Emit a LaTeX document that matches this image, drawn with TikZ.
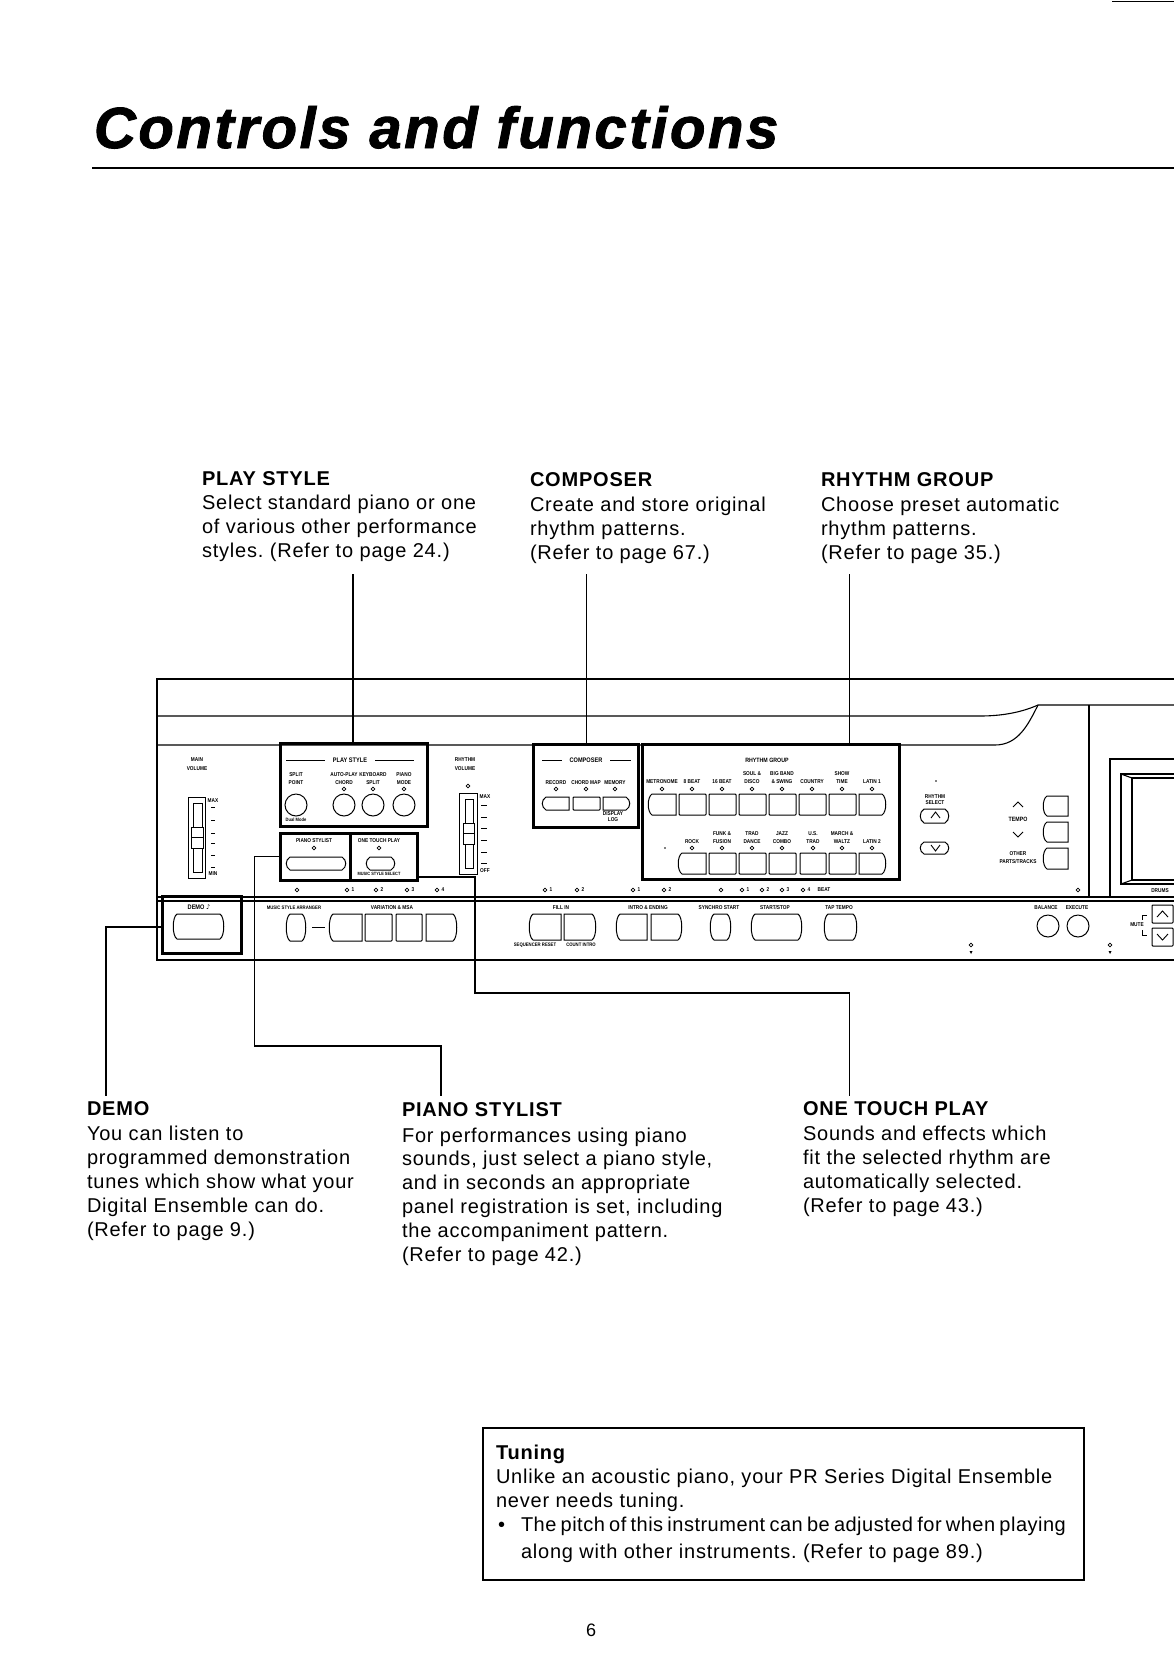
\documentclass[tikz,border=0pt]{standalone}
\usepackage{fontspec}
\setmainfont{Liberation Sans}
\frenchspacing
\newfontfamily\bodyf[LetterSpace=4]{Liberation Sans}
\newfontfamily\tightf[LetterSpace=2.5,WordSpace=0.7]{Liberation Sans}
\newfontfamily\titlef[LetterSpace=4.5,BoldItalicFeatures={FakeBold=1.6}]{Liberation Sans}
\newfontfamily\labf[FakeStretch=0.85]{Liberation Sans}
\newfontfamily\dejav{DejaVu Sans}
\newcount\labn
\tikzset{
  every node/.style={inner sep=0pt,outer sep=0pt},
  btn/.style={draw=black,line width=1pt,fill=white},
  led/.style={draw=black,line width=0.8pt,fill=white},
  panel/.style={draw=black,line width=1.1pt},
  slider/.style={draw=black,line width=1pt},
  heavy/.style={draw=black,line width=2.3pt},
  hl/.style={draw=black,line width=3pt,fill=none,minimum width=#1},
  conn/.style={draw=black,line width=1.7pt},
  labtxt/.style={font=\labf\fontsize{5.6}{6}\selectfont\bfseries,text=black,anchor=center},
  body/.style={font=\bodyf\fontsize{20}{23.9}\selectfont\frenchspacing,align=left,anchor=base west,text=black},
}
\newcommand\lab[3]{\global\advance\labn by 1 \node[labtxt,name=lab\the\labn] at (#1,#2) {#3};}
\newcommand\ledc[2]{\draw[led] (#1,#2) circle (1.9);}
\newcommand\bS[4]{\draw[btn,rounded corners=0.8] (#1,#2) rectangle (#3,#4);}
\newcommand\bL[4]{\draw[btn] (#3,#2) -- ({#1+5},#2) .. controls (#1,{#2+3}) and (#1,{#4-3}) .. ({#1+5},#4) -- (#3,#4) -- cycle;}
\newcommand\bR[4]{\draw[btn] (#1,#2) -- ({#3-5},#2) .. controls (#3,{#2+3}) and (#3,{#4-3}) .. ({#3-5},#4) -- (#1,#4) -- cycle;}
\newcommand\bB[4]{\draw[btn] ({#1+5},#2) -- ({#3-5},#2) .. controls (#3,{#2+3}) and (#3,{#4-3}) .. ({#3-5},#4) -- ({#1+5},#4) .. controls (#1,{#4-3}) and (#1,{#2+3}) .. cycle;}
\begin{document}
\begin{tikzpicture}[x=1pt,y=-1pt]
\useasboundingbox (0,0) rectangle (1174,1676);
% page head
\draw[line width=1.3pt] (1112,1.5) -- (1174,1.5);
\node[name=title,anchor=base west,font=\titlef\bfseries\itshape\fontsize{58}{60}\selectfont] at (94,148) {Controls and functions};
\draw[line width=1.8pt] (92,168) -- (1174,168);
% upper text
\node[body,name=tplay] at (202,557) {\textbf{PLAY STYLE}\\Select standard piano or one\\of various other performance\\styles. (Refer to page 24.)};
\node[body,name=tcomp] at (530,559) {\textbf{COMPOSER}\\[1pt]Create and store original\\rhythm patterns.\\(Refer to page 67.)};
\node[body,name=trhy] at (821,559) {\textbf{RHYTHM GROUP}\\[1pt]Choose preset automatic\\rhythm patterns.\\(Refer to page 35.)};
% panel outline
\draw[heavy] (1174,679) -- (157,679) -- (157,960) -- (1174,960);
\draw[panel] (157,716) -- (980,716) .. controls (1000,716) and (1020,713) .. (1038,705) -- (1174,705);
\draw[panel] (157,745) -- (995,745) .. controls (1018,745) and (1028,725) .. (1038,705);
\draw[panel] (157,897) -- (1174,897);
\draw[heavy] (157,901) -- (1174,901);
\draw[panel] (1089,705) -- (1089,897);
\draw[heavy] (1174,759) -- (1110,759) -- (1110,897);
\draw[panel] (1174,774) -- (1121,774) -- (1121,884) -- (1174,884);
\draw[panel] (1174,778) -- (1132,778) -- (1132,880) -- (1174,880);
\draw[panel] (1121,774) -- (1132,778) (1121,884) -- (1132,880);
\lab{1160}{891}{DRUMS}
% main volume
\lab{197}{760}{MAIN}\lab{197}{769}{VOLUME}
\draw[slider] (188,797) rectangle (205,878);
\draw[slider] (193,803) rectangle (202,872);
\draw[btn] (191.5,827) rectangle (203,848);
\draw[slider] (191.5,837) -- (203,837);
\foreach \yy in {807,820,833,843,855,867} {\draw[line width=0.9pt] (211,\yy) -- (215,\yy);}
\lab{213}{801}{MAX}\lab{213}{874}{MIN}
% rhythm volume
\lab{465}{760}{RHYTHM}\lab{465}{769}{VOLUME}
\ledc{468}{786}
\draw[slider] (459,793) rectangle (477,874);
\draw[slider] (465,799) rectangle (473,868);
\draw[btn] (463,823) rectangle (474,844);
\draw[slider] (463,833) -- (474,833);
\foreach \yy in {805,817,828,840,852,863} {\draw[line width=0.9pt] (481,\yy) -- (487,\yy);}
\lab{485}{797}{MAX}\lab{485}{871}{OFF}
% play style
\node[hl=147pt,minimum height=83pt,name=playbox] at (353.5,784.5) {};
\lab{350}{760}{\fontsize{6.6}{7}\selectfont PLAY STYLE}
\draw[line width=1pt] (286,760) -- (325,760) (375,760) -- (414,760);
\lab{296}{775}{SPLIT}\lab{296}{783}{POINT}
\lab{344}{775}{AUTO-PLAY}\lab{344}{783}{CHORD}\ledc{344}{789}
\lab{373}{775}{KEYBOARD}\lab{373}{783}{SPLIT}\ledc{373}{789}
\lab{404}{775}{PIANO}\lab{404}{783}{MODE}\ledc{404}{789}
\foreach \xx in {296,344,373,404} {\draw[btn] (\xx,805) circle (11);}
\lab{296}{820}{\fontsize{4.8}{5}\selectfont Dual Mode}
% piano stylist and one touch
\node[hl=70pt,minimum height=47pt,name=pianobox] at (315,856.5) {};
\node[hl=67pt,minimum height=47pt,name=touchbox] at (383.5,856.5) {};
\lab{314}{841}{PIANO STYLIST}\ledc{314}{848}
\bB{285}{857}{347}{870}
\lab{379}{841}{ONE TOUCH PLAY}\ledc{379}{848}
\bB{365}{857}{396}{870}
\lab{379}{873.5}{\fontsize{4.6}{5}\selectfont MUSIC STYLE SELECT}
% demo
\node[hl=79pt,minimum height=57pt,name=demobox] at (201.5,924.5) {};
\node[labtxt,name=demolab] at (199,907) {\fontsize{6.6}{7}\selectfont DEMO {\dejav\char"266A}};
\bB{172}{914}{225}{939}
% led row
\ledc{297}{890}
\ledc{347}{890}\lab{353}{890}{1}
\ledc{376}{890}\lab{382}{890}{2}
\ledc{407}{890}\lab{413}{890}{3}
\ledc{437}{890}\lab{443}{890}{4}
\ledc{545}{890}\lab{551}{890}{1}
\ledc{577}{890}\lab{583}{890}{2}
\ledc{633}{890}\lab{639}{890}{1}
\ledc{664}{890}\lab{670}{890}{2}
\ledc{721}{890}
\ledc{742}{890}\lab{748}{890}{1}
\ledc{762}{890}\lab{768}{890}{2}
\ledc{782}{890}\lab{788}{890}{3}
\ledc{803}{890}\lab{809}{890}{4}
\lab{824}{890}{BEAT}
\ledc{1078}{890}
% lower row
\lab{294}{908}{\fontsize{5}{5}\selectfont MUSIC STYLE ARRANGER}\lab{392}{908}{VARIATION \& MSA}
\bB{285}{914}{307}{941}
\draw[line width=0.9pt] (312,927) -- (325,927);
\bL{328}{914}{362}{941}\bS{365}{914}{392}{941}\bS{396}{914}{422}{941}\bR{426}{914}{458}{941}
\lab{561}{908}{FILL IN}
\bL{528}{914}{561}{940}\bR{564}{914}{597}{940}
\lab{535}{945}{\fontsize{5}{5}\selectfont SEQUENCER RESET}\lab{581}{945}{\fontsize{5}{5}\selectfont COUNT INTRO}
\lab{648}{908}{INTRO \& ENDING}
\bL{615}{914}{647}{940}\bR{651}{914}{683}{940}
\lab{719}{908}{SYNCHRO START}\bB{709}{914}{732}{940}
\lab{775}{908}{START/STOP}\bB{750}{914}{803}{940}
\lab{839}{908}{TAP TEMPO}\bB{823}{914}{858}{940}
% composer
\node[hl=105pt,minimum height=83pt,name=compbox] at (585.5,785.5) {};
\lab{586}{760}{\fontsize{6.6}{7}\selectfont COMPOSER}
\draw[line width=1pt] (542,760) -- (562,760) (610,760) -- (631,760);
\lab{556}{783}{RECORD}\ledc{556}{789}
\lab{586}{783}{CHORD MAP}\ledc{586}{789}
\lab{615}{783}{MEMORY}\ledc{615}{789}
\bL{541}{797}{569}{810}\bS{573}{797}{600}{810}\bR{603}{797}{631}{810}
\lab{613}{814}{DISPLAY}\lab{613}{820}{LOG}
% rhythm group
\node[hl=257pt,minimum height=135pt,name=rhybox] at (770.5,811.5) {};
\lab{767}{760}{\fontsize{6.2}{7}\selectfont RHYTHM GROUP}
\lab{662}{782}{METRONOME}\lab{692}{782}{8 BEAT}\lab{722}{782}{16 BEAT}
\lab{752}{774}{SOUL \&}\lab{752}{782}{DISCO}
\lab{782}{774}{BIG BAND}\lab{782}{782}{\& SWING}
\lab{812}{782}{COUNTRY}
\lab{842}{774}{SHOW}\lab{842}{782}{TIME}
\lab{872}{782}{LATIN 1}
\foreach \xx in {662,692,722,752,782,812,842,872} {\ledc{\xx}{789}}
\bL{647}{794}{676}{815}\bS{679}{794}{706}{815}\bS{709}{794}{736}{815}\bS{739}{794}{766}{815}
\bS{769}{794}{796}{815}\bS{799}{794}{826}{815}\bS{829}{794}{856}{815}\bR{859}{794}{887}{815}
\lab{692}{842}{ROCK}
\lab{722}{834}{FUNK \&}\lab{722}{842}{FUSION}
\lab{752}{834}{TRAD}\lab{752}{842}{DANCE}
\lab{782}{834}{JAZZ}\lab{782}{842}{COMBO}
\lab{813}{834}{U.S.}\lab{813}{842}{TRAD}
\lab{842}{834}{MARCH \&}\lab{842}{842}{WALTZ}
\lab{872}{842}{LATIN 2}
\foreach \xx in {692,722,752,782,813,842,872} {\ledc{\xx}{848}}
\fill (665,848) circle (0.8);
\bL{677}{853}{706}{874}\bS{709}{853}{736}{874}\bS{739}{853}{766}{874}\bS{769}{853}{796}{874}
\bS{800}{853}{826}{874}\bS{829}{853}{856}{874}\bR{859}{853}{887}{874}
% rhythm select, tempo
\fill (936,781) circle (0.8);
\lab{935}{797}{RHYTHM}\lab{935}{803}{SELECT}
\bB{919}{809}{950}{823}
\draw[line width=0.9pt] (931,818) -- (935.5,812) -- (940,818);
\bB{919}{842}{950}{854}
\draw[line width=0.9pt] (931,845) -- (935.5,851) -- (940,845);
\draw[line width=0.9pt] (1013,807) -- (1018,802) -- (1023,807);
\lab{1018}{819}{\fontsize{6.2}{7}\selectfont TEMPO}
\draw[line width=0.9pt] (1013,832) -- (1018,837) -- (1023,832);
\lab{1018}{854}{OTHER}\lab{1018}{862}{PARTS/TRACKS}
\bL{1042}{796}{1068}{816}\bL{1042}{822}{1068}{842}\bL{1042}{848}{1068}{869}
% balance, execute, mute
\lab{1046}{908}{BALANCE}\lab{1077}{908}{EXECUTE}
\draw[btn] (1048,926) circle (11);\draw[btn] (1078,926) circle (11);
\ledc{971}{945}\fill (969.5,951) -- (972.5,951) -- (971,954) -- cycle;
\ledc{1110}{945}\fill (1108.5,951) -- (1111.5,951) -- (1110,954) -- cycle;
\lab{1137}{925}{MUTE}
\draw[line width=0.9pt] (1147,915) -- (1142,915) -- (1142,920) (1142,930) -- (1142,935) -- (1147,935);
\bS{1152}{905}{1173}{923}\bS{1152}{928}{1173}{946}
\draw[line width=0.9pt] (1157,917) -- (1162.5,911) -- (1168,917);
\draw[line width=0.9pt] (1157,934) -- (1162.5,940) -- (1168,934);
% connectors
\coordinate (playtop) at (353,574);
\coordinate (comptop) at (586.5,574);
\coordinate (rhytop) at (849.5,574);
\coordinate (demoend) at (106,1096);
\coordinate (pianobend) at (254.5,1046);
\coordinate (pianoend) at (441,1096);
\coordinate (touchbend) at (475,993);
\coordinate (touchend) at (849.5,1096);
\draw[conn] (playtop) -- (playtop |- playbox.north);
\draw[conn] (comptop) -- (comptop |- compbox.north);
\draw[conn] (rhytop) -- (rhytop |- rhybox.north);
\draw[conn] ([yshift=-2.5pt]demobox.west) -| (demoend);
\draw[conn] (pianobox.west) -| (pianobend) -| (pianoend);
\draw[conn] ([yshift=3pt]touchbox.south east) -| (touchbend) -| (touchend);
% lower text
\node[body,name=tdemo] at (87,1236.5) {\textbf{DEMO}\\[2pt]You can listen to\\programmed demonstration\\tunes which show what your\\Digital Ensemble can do.\\(Refer to page 9.)};
\node[body,name=tpiano] at (402,1261.5) {\textbf{PIANO STYLIST}\\[2pt]For performances using piano\\sounds, just select a piano style,\\and in seconds an appropriate\\panel registration is set, including\\the accompaniment pattern.\\(Refer to page 42.)};
\node[body,name=ttouch] at (803,1212.6) {\textbf{ONE TOUCH PLAY}\\[1.5pt]Sounds and effects which\\fit the selected rhythm are\\automatically selected.\\(Refer to page 43.)};
% tuning box
\node[draw=black,line width=1.2pt,minimum width=601pt,minimum height=152pt,name=tunebox] at (783.5,1504) {};
\node[body,name=ttune] at (496,1507) {\textbf{Tuning}\\Unlike an acoustic piano, your PR Series Digital Ensemble\\never needs tuning.};
\node[anchor=base west,font=\fontsize{20}{24}\selectfont,name=tbullet] at (498,1531) {•};
\node[anchor=base west,font=\tightf\fontsize{20}{24}\selectfont,name=tpitch] at (521,1531) {The pitch of this instrument can be adjusted for when playing};
\node[body,name=talong] at (521,1558) {along with other instruments. (Refer to page 89.)};
\node[anchor=base,font=\fontsize{18}{20}\selectfont,name=pageno] at (591,1636) {6};
\end{tikzpicture}
\end{document}
